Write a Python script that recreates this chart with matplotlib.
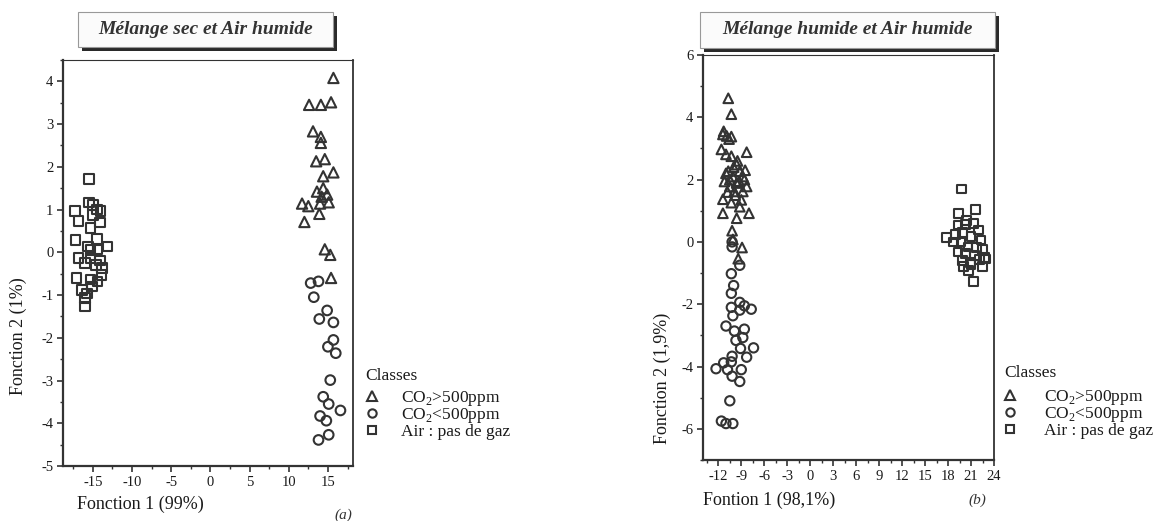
import matplotlib
matplotlib.use("Agg")
import matplotlib.pyplot as plt
from matplotlib.patches import Rectangle
from matplotlib.lines import Line2D
from matplotlib.ticker import MultipleLocator

plt.rcParams['font.family'] = ['Liberation Serif', 'DejaVu Serif']
plt.rcParams['mathtext.fontset'] = 'custom'
plt.rcParams['mathtext.rm'] = 'Liberation Serif'
plt.rcParams['axes.unicode_minus'] = False

# --- panel (a): Mélange sec et Air humide ---
a_tri_x = [15.7, 12.6, 14.1, 15.4, 13.1, 14.1, 14.1, 13.5, 14.6, 15.7, 14.4, 13.6,
           14.4, 14.9, 11.7, 12.5, 14.0, 15.1, 13.9, 12.0, 14.6, 15.3, 15.4, 14.2]
a_tri_y = [4.08, 3.45, 3.45, 3.51, 2.83, 2.70, 2.56, 2.13, 2.18, 1.87, 1.78, 1.42,
           1.50, 1.35, 1.14, 1.08, 1.14, 1.17, 0.90, 0.71, 0.07, -0.06, -0.60, 1.30]
a_cir_x = [12.8, 13.8, 13.2, 14.9, 13.9, 15.7, 15.7, 15.0, 16.0, 15.3, 14.4, 15.1,
           16.6, 14.0, 14.8, 13.8, 15.1]
a_cir_y = [-0.72, -0.68, -1.05, -1.36, -1.56, -1.64, -2.05, -2.21, -2.36, -2.99, -3.38, -3.55,
           -3.70, -3.83, -3.94, -4.39, -4.27]
a_sq_x = [-15.5, -15.5, -15.0, -14.5, -14.0, -17.3, -16.8, -15.0, -14.1, -15.3, -17.2, -14.5,
          -13.1, -15.6, -14.4, -16.8, -15.3, -16.0, -14.1, -13.8, -14.6, -13.9, -17.1, -15.3,
          -14.4, -16.4, -15.1, -16.0, -16.0, -15.7, -15.3]
a_sq_y = [1.71, 1.17, 1.11, 1.00, 0.96, 0.96, 0.74, 0.88, 0.70, 0.57, 0.29, 0.31,
          0.14, 0.14, 0.07, -0.14, -0.14, -0.25, -0.19, -0.37, -0.29, -0.53, -0.60, -0.64,
          -0.68, -0.88, -0.80, -1.07, -1.27, -0.96, 0.05]

# --- panel (b): Mélange humide et Air humide ---
b_tri_x = [-10.7, -10.3, -11.4, -10.9, -10.3, -11.3, -11.6, -8.3, -11.0, -10.3, -9.6, -10.7,
           -9.2, -10.1, -8.8, -11.2, -9.6, -8.3, -10.5, -9.9, -8.8, -11.4, -10.3, -9.0,
           -9.2, -11.4, -9.6, -8.0, -10.2, -10.1, -8.9, -9.4, -10.5, -10.0, -9.3, -8.6,
           -11.0, -9.8, -10.8, -8.5, -9.5, -10.6]
b_tri_y = [4.61, 4.10, 3.45, 3.40, 3.38, 3.55, 2.97, 2.88, 2.81, 2.75, 2.48, 2.27,
           2.27, 2.10, 2.10, 1.94, 1.89, 1.78, 1.78, 1.62, 1.62, 1.37, 1.26, 1.35,
           1.13, 0.92, 0.76, 0.92, 0.36, 0.08, -0.18, -0.54, 2.00, 2.40, 1.95, 2.00,
           2.20, 1.50, 1.60, 2.30, 2.60, 3.30]
b_cir_x = [-10.2, -10.2, -9.2, -10.3, -10.0, -10.3, -9.2, -10.3, -9.2, -7.7, -8.6, -10.1,
           -11.0, -9.9, -8.6, -8.8, -9.7, -7.4, -9.1, -10.2, -8.3, -11.3, -10.3, -12.3,
           -10.8, -9.0, -10.2, -9.2, -10.5, -11.6, -11.0, -10.1]
b_cir_y = [0.00, -0.16, -0.75, -1.02, -1.40, -1.65, -1.94, -2.10, -2.19, -2.16, -2.05, -2.37,
           -2.70, -2.86, -2.80, -3.07, -3.16, -3.40, -3.42, -3.67, -3.70, -3.88, -3.85, -4.07,
           -4.10, -4.10, -4.31, -4.48, -5.10, -5.75, -5.83, -5.83]
b_sq_x = [19.8, 21.6, 19.4, 17.8, 19.0, 20.3, 21.3, 22.0, 19.9, 21.0, 22.3, 18.7,
          19.7, 20.6, 21.7, 22.5, 19.3, 20.3, 21.5, 22.8, 19.9, 20.9, 22.1, 22.9,
          20.0, 21.0, 22.5, 20.7, 21.3, 20.4, 19.3]
b_sq_y = [1.70, 1.05, 0.90, 0.14, 0.25, 0.57, 0.59, 0.38, 0.29, 0.18, 0.06, 0.00,
          0.00, -0.16, -0.18, -0.25, -0.32, -0.38, -0.43, -0.49, -0.59, -0.65, -0.57, -0.55,
          -0.79, -0.72, -0.79, -0.92, -1.26, 0.68, 0.54]

class_labels = ['CO$_2$>500ppm', 'CO$_2$<500ppm', 'Air : pas de gaz']

W, H = 1160, 521
fig = plt.figure(figsize=(W / 100, H / 100), dpi=100)

edge = '#333333'
txt = '#1a1a1a'


def px(x0, y0, x1, y1):
    # pixel box (top-left origin) -> figure fraction [left, bottom, width, height]
    return [x0 / W, 1 - y1 / H, (x1 - x0) / W, (y1 - y0) / H]


def style_axes(ax):
    for s in ax.spines.values():
        s.set_color(edge)
        s.set_linewidth(0.8)
    ax.spines['left'].set_linewidth(1.6)
    ax.spines['bottom'].set_linewidth(1.6)
    ax.spines['right'].set_linewidth(1.3)
    ax.tick_params(which='major', direction='out', length=4, width=1.2, colors=edge,
                   labelsize=10.5, labelcolor=txt, pad=3)
    ax.tick_params(which='minor', direction='out', length=2.5, width=1.0, colors=edge)
    ax.tick_params(top=False, right=False, which='both')


def title_box(x0, y0, x1, y1, text):
    fig.patches.append(Rectangle((x0 / W + 4 / W, 1 - (y1 + 4) / H), (x1 - x0) / W, (y1 - y0) / H,
                                 transform=fig.transFigure, facecolor='#2a2a2a', edgecolor='none'))
    fig.patches.append(Rectangle((x0 / W, 1 - y1 / H), (x1 - x0) / W, (y1 - y0) / H,
                                 transform=fig.transFigure, facecolor='#fbfbfb',
                                 edgecolor='#999999', linewidth=0.8))
    fig.text((x0 + x1) / 2 / W, 1 - (y0 + y1) / 2 / H, text, ha='center', va='center',
             fontsize=14, fontweight='bold', fontstyle='italic', color='#333333')


mk = dict(facecolors='none', edgecolors=edge, linewidths=1.5)


def legend(x, y_title, y_rows, hl, tp):
    fig.text(x / W, 1 - y_title / H, 'Classes', ha='left', va='center', fontsize=12.5, color=txt)
    handles = [Line2D([], [], ls='none', marker=m, ms=ms, mfc='none', mec=edge, mew=1.5)
               for m, ms in zip(['^', 'o', 's'], [6.5, 6, 5.5])]
    lg = fig.legend(handles, class_labels, loc='upper left',
                    bbox_to_anchor=(x / W, 1 - y_rows / H), frameon=False, fontsize=12.5,
                    handlelength=hl, handletextpad=tp,
                    labelspacing=-0.1, borderpad=0, borderaxespad=0)
    for t in lg.get_texts():
        t.set_color(txt)


# panel (a)
ax1 = fig.add_axes(px(63, 60, 353, 466))
ax1.scatter(a_tri_x, a_tri_y, marker='^', s=55, **mk)
ax1.scatter(a_cir_x, a_cir_y, marker='o', s=48, **mk)
ax1.scatter(a_sq_x, a_sq_y, marker='s', s=48, **mk)
ax1.set_xlim(-18.8, 18.2)
ax1.set_ylim(-5, 4.5)
ax1.xaxis.set_major_locator(MultipleLocator(5))
ax1.xaxis.set_minor_locator(MultipleLocator(2.5))
ax1.yaxis.set_major_locator(MultipleLocator(1))
ax1.yaxis.set_minor_locator(MultipleLocator(0.5))
style_axes(ax1)
fig.text(140 / W, 1 - 504 / H, 'Fonction 1 (99%)', ha='center', va='center', fontsize=13, color=txt)
fig.text(18 / W, 1 - 336 / H, 'Fonction 2 (1%)', ha='center', va='center', rotation=90,
         fontsize=13, color=txt)
fig.text(343 / W, 1 - 515 / H, '(a)', ha='center', va='center', fontsize=11, fontstyle='italic', color='#333333')
title_box(78, 12, 333, 47, 'Mélange sec et Air humide')
legend(365, 376, 389, 0.8, 1.3)

# panel (b)
ax2 = fig.add_axes(px(703, 55, 994, 460))
ax2.scatter(b_tri_x, b_tri_y, marker='^', s=48, **mk)
ax2.scatter(b_cir_x, b_cir_y, marker='o', s=45, **mk)
ax2.scatter(b_sq_x, b_sq_y, marker='s', s=40, **mk)
ax2.set_xlim(-14, 24)
ax2.set_ylim(-7, 6)
ax2.set_xticks(range(-12, 25, 3))
ax2.xaxis.set_minor_locator(MultipleLocator(1.5))
ax2.set_yticks(range(-6, 7, 2))
ax2.yaxis.set_minor_locator(MultipleLocator(1))
style_axes(ax2)
fig.text(703 / W, 1 - 500 / H, 'Fontion 1 (98,1%)', ha='left', va='center', fontsize=13, color=txt)
fig.text(662 / W, 1 - 378 / H, 'Fonction 2 (1,9%)', ha='center', va='center', rotation=90,
         fontsize=13, color=txt)
fig.text(977 / W, 1 - 500 / H, '(b)', ha='center', va='center', fontsize=11, fontstyle='italic', color='#333333')
title_box(700, 12, 995, 48, 'Mélange humide et Air humide')
legend(1004, 373, 388, 0.7, 1.6)

fig.savefig('out.png', dpi=100)
